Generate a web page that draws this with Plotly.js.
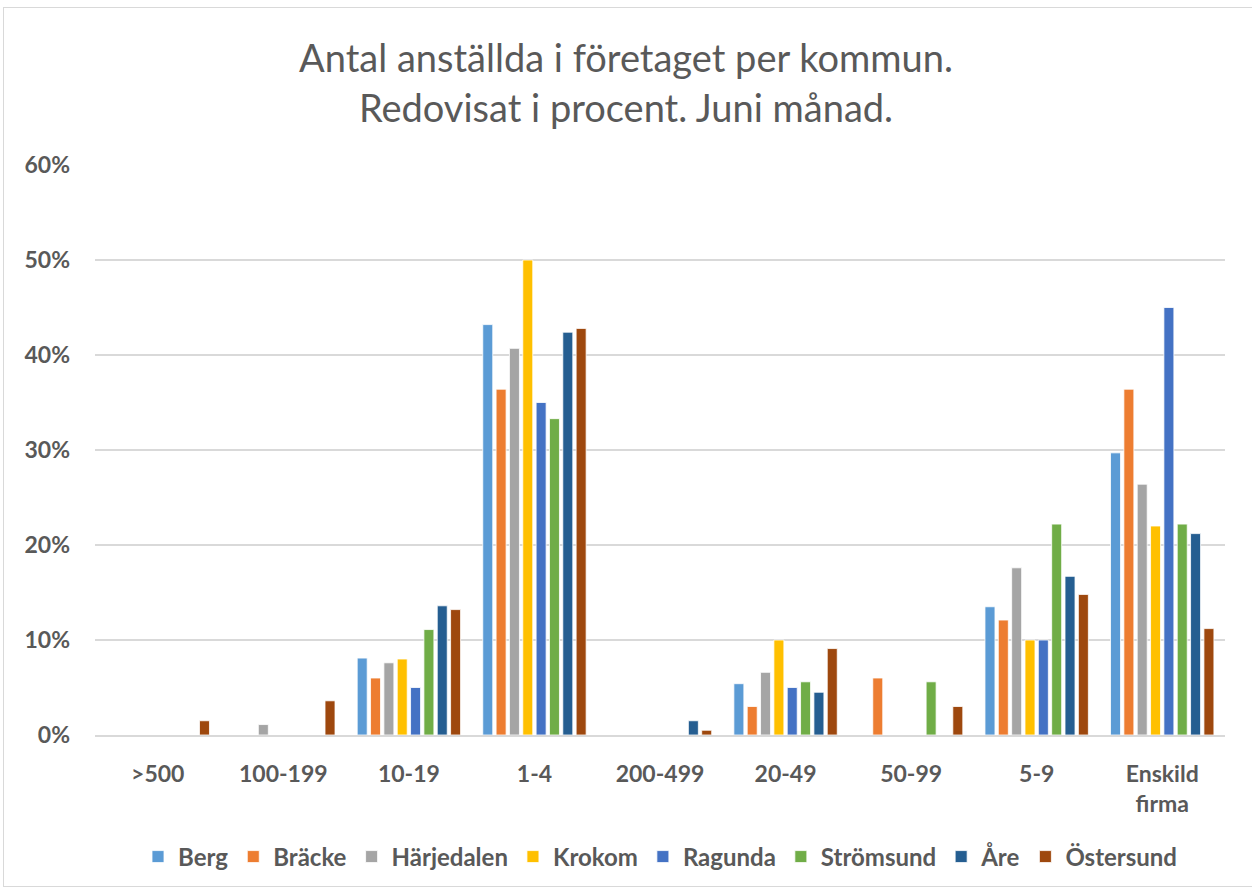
<!DOCTYPE html>
<html>
<head>
<meta charset="utf-8">
<script src="https://cdn.plot.ly/plotly-3.0.1.min.js"></script>
<style>
html,body{margin:0;padding:0;background:#fff;overflow:hidden;}
#frame{position:absolute;left:3px;top:7px;width:1260px;height:880px;border:1.5px solid #d9d9d9;box-sizing:border-box;}
#chart{position:absolute;left:0;top:0;width:1252px;height:892px;}
</style>
</head>
<body>
<div id="frame"></div>
<div id="chart"></div>
<script>
const categories = ['>500', '100-199', '10-19', '1-4', '200-499', '20-49', '50-99', '5-9', 'Enskild<br>firma'];
const seriesNames = ['Berg', 'Bräcke', 'Härjedalen', 'Krokom', 'Ragunda', 'Strömsund', 'Åre', 'Östersund'];
const seriesColors = ['#5b9bd5', '#ed7d31', '#a5a5a5', '#ffc000', '#4472c4', '#70ad47', '#255e91', '#9e480e'];

const berg       = [0,   0,   8.1,  43.2, 0,   5.4, 0,   13.5, 29.7];
const bracke     = [0,   0,   6.0,  36.4, 0,   3.0, 6.0, 12.1, 36.4];
const harjedalen = [0,   1.1, 7.6,  40.7, 0,   6.6, 0,   17.6, 26.4];
const krokom     = [0,   0,   8.0,  50.0, 0,   10.0, 0,  10.0, 22.0];
const ragunda    = [0,   0,   5.0,  35.0, 0,   5.0, 0,   10.0, 45.0];
const stromsund  = [0,   0,   11.1, 33.3, 0,   5.6, 5.6, 22.2, 22.2];
const are        = [0,   0,   13.6, 42.4, 1.5, 4.5, 0,   16.7, 21.2];
const ostersund  = [1.5, 3.6, 13.2, 42.8, 0.5, 9.1, 3.0, 14.8, 11.2];

const seriesValues = [berg, bracke, harjedalen, krokom, ragunda, stromsund, are, ostersund];
const yTickVals = [0, 10, 20, 30, 40, 50, 60];
const yTickText = ['0%', '10%', '20%', '30%', '40%', '50%', '60%'];

const fontFam = 'Lato, "Open Sans", sans-serif';
const txtColor = '#595959';

const data = seriesNames.map((name, i) => ({
  type: 'bar',
  name: name,
  x: categories,
  y: seriesValues[i],
  marker: {color: seriesColors[i], line: {color: '#ffffff', width: 0.8}},
  hoverinfo: 'x+y+name'
}));

const layout = {
  width: 1252,
  height: 892,
  margin: {l: 95, r: 27, t: 165, b: 157},
  paper_bgcolor: 'rgba(0,0,0,0)',
  plot_bgcolor: 'rgba(0,0,0,0)',
  title: {
    text: 'Antal anställda i företaget per kommun.<br>Redovisat i procent. Juni månad.',
    font: {family: fontFam, size: 38, color: txtColor},
    x: 0.5, xanchor: 'center', y: 0.919, yanchor: 'top'
  },
  barmode: 'group',
  bargap: 0.15,
  bargroupgap: 0.25,
  xaxis: {
    type: 'category',
    tickfont: {family: fontFam, size: 23, color: txtColor, weight: 'bold'},
    ticks: '',
    showgrid: false,
    showline: true,
    linecolor: '#d9d9d9',
    linewidth: 1.5,
    ticklabelstandoff: 18,
    fixedrange: true
  },
  yaxis: {
    range: [0, 60],
    tickvals: yTickVals,
    ticktext: yTickText,
    tickfont: {family: fontFam, size: 23, color: txtColor, weight: 'bold'},
    showgrid: true,
    gridcolor: '#d9d9d9',
    gridwidth: 1.5,
    zeroline: false,
    showline: false,
    ticks: '',
    ticklabelstandoff: 24,
    fixedrange: true
  },
  legend: {
    orientation: 'h',
    x: 0.5, xanchor: 'center',
    y: -0.214, yanchor: 'middle',
    font: {family: fontFam, size: 24, color: txtColor, weight: 'bold'},
    itemwidth: 30,
    traceorder: 'normal'
  },
  showlegend: true
};

Plotly.newPlot('chart', data, layout, {displayModeBar: false, staticPlot: true});
</script>
</body>
</html>
